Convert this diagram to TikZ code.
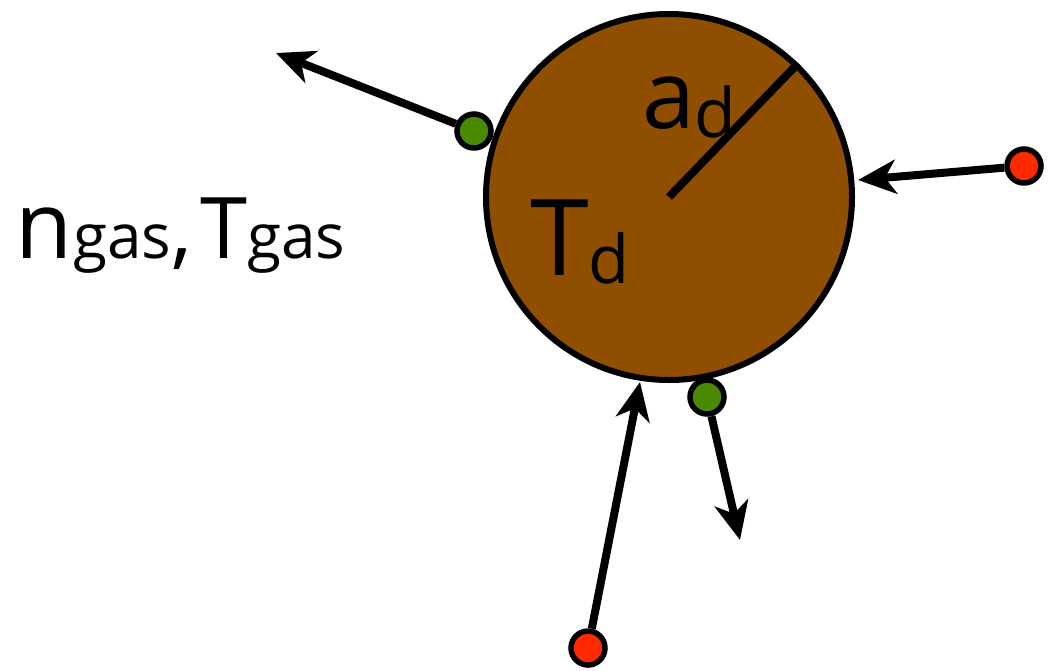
\documentclass[tikz,border=0pt]{standalone}
\usepackage{fontspec}
\setmainfont{Open Sans}
\usetikzlibrary{arrows.meta}
\definecolor{dustbrown}{RGB}{143,78,0}
\definecolor{dotgreen}{RGB}{74,138,0}
\definecolor{dotred}{RGB}{255,42,0}
\newcommand{\fsz}[1]{\fontsize{#1}{#1}\selectfont}
\tikzset{
  grain/.style={circle, draw=black, fill=dustbrown, line width=6pt, minimum size=366pt, inner sep=0pt},
  outdot/.style={circle, draw=black, fill=dotgreen, line width=5.5pt, minimum size=34pt, inner sep=0pt},
  indot/.style={circle, draw=black, fill=dotred, line width=5.5pt, minimum size=34pt, inner sep=0pt},
  flow/.style={line width=8pt, -{Stealth[length=38pt, width=34pt, inset=11pt]}},
  radiusline/.style={line width=8pt},
  lbl/.style={anchor=base west, inner sep=0pt, outer sep=0pt}
}
\begin{document}
\begin{tikzpicture}[x=1pt, y=-1pt]
\useasboundingbox (0,0) rectangle (1059,670);
% grain
\node[grain] (d) at (669,197) {};
\draw[radiusline] (d.center) -- (d.46);
% labels
\node[lbl] (ad) at (642,128) {\fsz{95}a\raisebox{-9pt}{\fsz{68}d}};
\node[lbl] (Td) at (530,275) {\fsz{106}T\raisebox{-8pt}{\fsz{67}d}};
\node[lbl] (gas) at (16,258) {\fsz{93}n\fsz{62}gas\fsz{85},\hspace{0.1em}T\fsz{62}gas};
% particles
\node[outdot] (g1) at (474,131) {};
\node[outdot] (g2) at (707,397) {};
\node[indot] (r1) at (1024,166) {};
\node[indot] (r2) at (588,648) {};
% arrow ends
\coordinate (t1) at (276,53);
\coordinate (t2) at (740,540);
\coordinate (t3) at (858,180);
\coordinate (t4) at (640,382);
\draw[flow] (g1) -- (t1);
\draw[flow] (g2) -- (t2);
\draw[flow] (r1) -- (t3);
\draw[flow] (r2) -- (t4);
\end{tikzpicture}
\end{document}
